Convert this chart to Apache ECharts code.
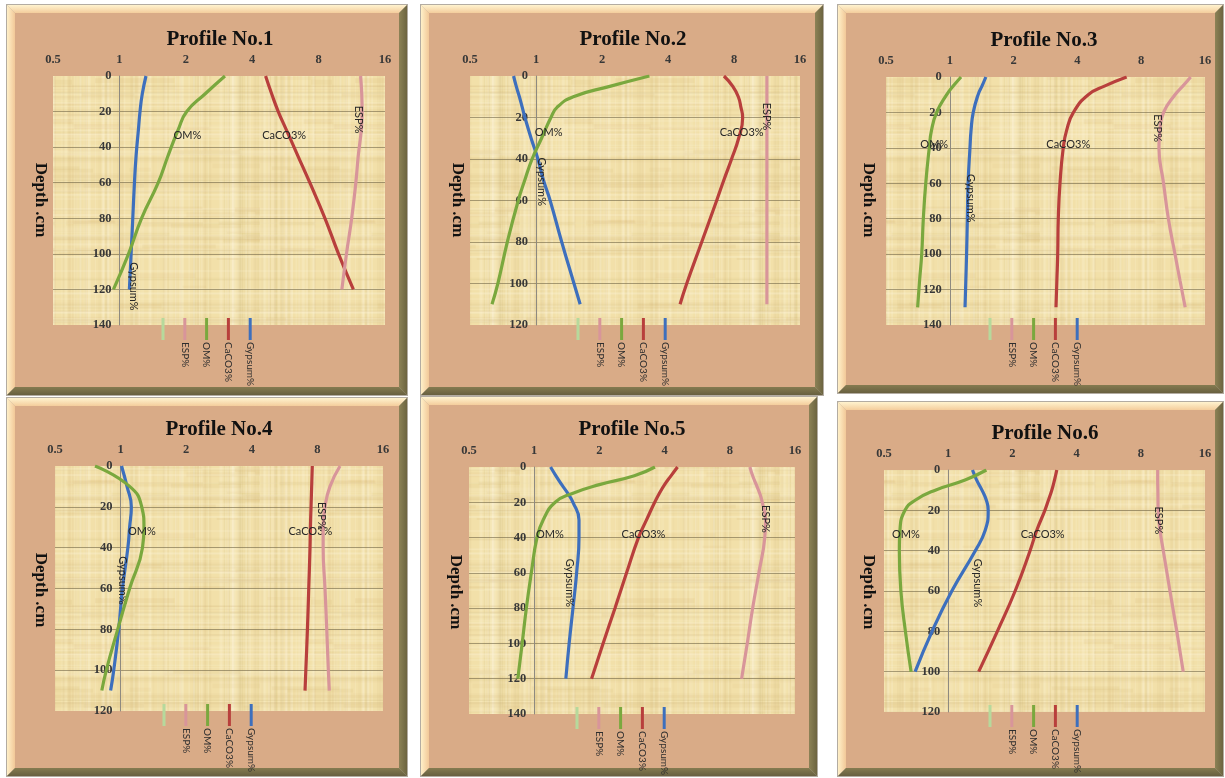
<!DOCTYPE html>
<html>
<head>
<meta charset="utf-8">
<script src="https://cdn.jsdelivr.net/npm/echarts@6.0.0/dist/echarts.min.js"></script>
<style>
  html, body { margin: 0; padding: 0; background: #ffffff; }
  #chart { width: 1225px; height: 778px; }
</style>
</head>
<body>
<div id="chart"></div>
<script>
// ---- Soil profile data: depth (cm) and measured percentages ----
const profileTitles = ['Profile No.1', 'Profile No.2', 'Profile No.3', 'Profile No.4', 'Profile No.5', 'Profile No.6'];
const xTicks = [0.5, 1, 2, 4, 8, 16];
const depthMax = [140, 120, 140, 120, 140, 120];
const seriesNames = ['Gypsum%', 'CaCO3%', 'OM%', 'ESP%'];
const legendNames = ['', 'ESP%', 'OM%', 'CaCO3%', 'Gypsum%'];
const depthTitle = 'Depth .cm';

const depth1 = [0, 10, 20, 30, 45, 60, 80, 100, 120];
const gypsum1 = [1.32, 1.27, 1.24, 1.22, 1.19, 1.17, 1.15, 1.13, 1.11];
const caco3_1 = [4.6, 4.9, 5.25, 5.7, 6.45, 7.3, 8.55, 9.85, 11.5];
const om1 = [3.01, 2.45, 2.02, 1.85, 1.66, 1.5, 1.26, 1.1, 0.94];
const esp1 = [12.4, 12.55, 12.6, 12.5, 12.1, 11.8, 11.3, 10.7, 10.2];

const depth2 = [0, 5, 10, 15, 20, 30, 40, 50, 60, 80, 100, 110];
const gypsum2 = [0.79, 0.813, 0.84, 0.865, 0.89, 0.95, 1.02, 1.08, 1.16, 1.31, 1.49, 1.59];
const caco3_2 = [7.2, 7.9, 8.37, 8.6, 8.76, 8.4, 7.8, 7.2, 6.67, 5.7, 4.87, 4.54];
const om2 = [3.29, 2.17, 1.48, 1.25, 1.17, 1.06, 0.96, 0.89, 0.83, 0.74, 0.67, 0.63];
const esp2 = [11.3, 11.3, 11.3, 11.3, 11.3, 11.3, 11.3, 11.3, 11.3, 11.3, 11.3, 11.3];

const depth3 = [0, 5, 10, 20, 30, 40, 60, 80, 100, 115, 130];
const gypsum3 = [1.48, 1.42, 1.36, 1.29, 1.26, 1.245, 1.22, 1.21, 1.2, 1.19, 1.18];
const caco3_3 = [6.83, 5.4, 4.5, 3.83, 3.56, 3.43, 3.31, 3.25, 3.23, 3.2, 3.17];
const om3 = [1.13, 1.04, 0.967, 0.867, 0.82, 0.8, 0.77, 0.75, 0.737, 0.72, 0.705];
const esp3 = [13.7, 12.6, 11.55, 10.2, 9.8, 9.7, 10.2, 10.75, 11.55, 12.2, 12.9];

const depth4 = [0, 10, 20, 30, 40, 60, 80, 100, 110];
const gypsum4 = [1.01, 1.07, 1.12, 1.1, 1.08, 1.02, 0.98, 0.93, 0.9];
const caco3_4 = [7.58, 7.53, 7.48, 7.43, 7.4, 7.3, 7.2, 7.08, 7.02];
const om4 = [0.763, 1.1, 1.25, 1.28, 1.26, 1.1, 0.97, 0.86, 0.82];
const esp4 = [10.16, 9.14, 8.67, 8.5, 8.5, 8.67, 8.83, 8.98, 9.07];

const depth5 = [0, 5, 10, 15, 20, 30, 40, 60, 80, 100, 120];
const gypsum5 = [1.19, 1.26, 1.34, 1.43, 1.51, 1.61, 1.61, 1.57, 1.51, 1.45, 1.4];
const caco3_5 = [4.59, 4.28, 4.0, 3.78, 3.6, 3.3, 3.03, 2.67, 2.36, 2.08, 1.84];
const om5 = [3.61, 2.9, 2.0, 1.5, 1.25, 1.1, 1.03, 0.97, 0.92, 0.88, 0.84];
const esp5 = [9.9, 10.2, 10.6, 11.0, 11.3, 11.7, 11.6, 10.9, 10.2, 9.63, 9.07];

const depth6 = [0, 5, 10, 15, 20, 30, 40, 60, 80, 100];
const gypsum6 = [1.3, 1.36, 1.44, 1.51, 1.54, 1.49, 1.34, 1.04, 0.84, 0.7];
const caco3_6 = [3.23, 3.15, 3.06, 2.95, 2.84, 2.6, 2.42, 2.06, 1.7, 1.39];
const om6 = [1.51, 1.2, 0.87, 0.7, 0.627, 0.594, 0.59, 0.6, 0.63, 0.67];
const esp6 = [9.6, 9.6, 9.62, 9.63, 9.65, 9.85, 10.2, 10.96, 11.8, 12.65];

const profileDepths = [depth1, depth2, depth3, depth4, depth5, depth6];
const profileSeries = [
  [gypsum1, caco3_1, om1, esp1],
  [gypsum2, caco3_2, om2, esp2],
  [gypsum3, caco3_3, om3, esp3],
  [gypsum4, caco3_4, om4, esp4],
  [gypsum5, caco3_5, om5, esp5],
  [gypsum6, caco3_6, om6, esp6]
];

// ---- Styling and layout ----
const seriesColors = ['#3d6fbd', '#b83f3c', '#7aa83e', '#d8959a'];
const legendColors = ['#b6d99c', '#d8959a', '#7aa83e', '#b83f3c', '#3d6fbd'];
const rotatedLabel = [true, false, false, true];

// panel frame boxes [x0, y0, x1, y1]
const frames = [[7, 5, 407, 395], [421, 5, 823, 395], [838, 5, 1223, 393],
                [7, 398, 407, 776], [421, 397, 817, 776], [838, 402, 1223, 776]];
// plotting boxes [left, top, right, bottom]
const plots = [[53, 76, 385, 325], [470, 76, 800, 325], [886, 77, 1205, 325],
               [55, 466, 383, 711], [469, 467, 795, 714], [884, 470, 1205, 712]];
const titlePos = [[220, 40], [633, 40], [1044, 41], [219, 430], [632, 430], [1045, 434]];
const depthTitlePos = [[40, 200], [457, 200], [868, 200], [40, 590], [455, 592], [868, 592]];
const legendStart = [163, 578, 990, 164, 577, 990];
const legendStep = 21.8;

// which point carries the series label and its screen offset [dx, dy]
// order per profile: Gypsum, CaCO3, OM, ESP
const labelAt = [
  [[8, 4, -3], [3, -2, 6], [3, 9, 6], [2, -4, 8]],
  [[7, -2, 2], [5, 3, -6], [5, 7, -6], [4, 0, -1]],
  [[6, 2, 15], [5, 5, -3], [5, 5, -3], [4, -2, -2]],
  [[5, 0, -8], [3, 0, 4], [3, -2, 4], [2, -3, 9]],
  [[7, -7, 10], [6, 5, -3], [6, 13, -3], [5, 0, -1]],
  [[7, 26, -8], [5, 6, 4], [5, 6, 4], [4, 0, 10]]
];

// papyrus-like fill for the plotting areas
function papyrusTexture() {
  const c = document.createElement('canvas');
  c.width = 260; c.height = 260;
  const g = c.getContext('2d');
  g.fillStyle = '#f2e0a9';
  g.fillRect(0, 0, 260, 260);
  let s = 12345;
  const next = () => { s = (s * 16807) % 2147483647; return s / 2147483647; };
  for (let i = 0; i < 150; i++) {
    const x = next() * 260;
    const light = next() < 0.55;
    g.fillStyle = light ? 'rgba(255,249,226,' + (0.10 + next() * 0.16) + ')'
                        : 'rgba(200,172,112,' + (0.04 + next() * 0.07) + ')';
    g.fillRect(x, 0, 1 + next() * 2, 260);
  }
  for (let i = 0; i < 100; i++) {
    const y = next() * 260;
    const light = next() < 0.5;
    g.fillStyle = light ? 'rgba(255,247,220,' + (0.10 + next() * 0.14) + ')'
                        : 'rgba(190,158,96,' + (0.05 + next() * 0.09) + ')';
    g.fillRect(0, y, 260, 1 + next() * 1.5);
  }
  for (let i = 0; i < 50; i++) {
    const y = next() * 260, x = next() * 260;
    g.fillStyle = 'rgba(210,176,106,' + (0.06 + next() * 0.08) + ')';
    g.fillRect(x, y, 20 + next() * 60, 2 + next() * 3);
  }
  return c;
}
const texture = papyrusTexture();

const grids = [], xAxes = [], yAxes = [], series = [], graphics = [];

plots.forEach((pb, p) => {
  const [l, t, r, b] = pb;
  const w = r - l, h = b - t;
  grids.push({ left: l, top: t, width: w, height: h, show: true, borderWidth: 0,
               backgroundColor: { image: texture, repeat: 'repeat' } });
  xAxes.push({
    type: 'log', logBase: 2, min: xTicks[0], max: xTicks[xTicks.length - 1],
    gridIndex: p, position: 'top',
    axisLine: { show: false }, axisTick: { show: false }, splitLine: { show: false },
    axisLabel: { margin: 10, color: '#383838', fontFamily: '"Liberation Serif", serif',
                 fontWeight: 'bold', fontSize: 12.5, formatter: v => String(v) }
  });
  yAxes.push({
    type: 'value', inverse: true, min: 0, max: depthMax[p], interval: 20,
    gridIndex: p, position: 'left', offset: -w / 5,
    axisLine: { show: true, onZero: false, lineStyle: { color: '#8e8a80', width: 1 } },
    axisTick: { show: false },
    axisLabel: { margin: 8, color: '#383838', fontFamily: '"Liberation Serif", serif',
                 fontWeight: 'bold', fontSize: 12.5 },
    splitLine: { show: true, showMinLine: false, showMaxLine: false,
                 lineStyle: { color: 'rgba(118,106,74,0.62)', width: 1 } }
  });

  const depths = profileDepths[p];
  profileSeries[p].forEach((vals, k) => {
    const [li, dx, dy] = labelAt[p][k];
    const rot = rotatedLabel[k];
    // rotated labels turn their offset with them
    const off = rot ? [dy, -dx] : [dx, dy];
    const data = depths.map((d, i) => {
      if (i !== li) return [vals[i], d];
      return {
        value: [vals[i], d], symbol: 'circle', symbolSize: 1,
        label: { show: true, formatter: '{a}', position: 'inside', rotate: rot ? -90 : 0,
                 offset: off, color: '#262626', fontFamily: 'Lato, "Open Sans", sans-serif',
                 fontSize: 11 }
      };
    });
    series.push({
      type: 'line', name: seriesNames[k], xAxisIndex: p, yAxisIndex: p,
      data, smooth: 0.5, symbol: 'none', showSymbol: true,
      lineStyle: { width: 3.2, color: seriesColors[k] },
      itemStyle: { color: seriesColors[k] },
      emphasis: { disabled: true }, z: 3 + k
    });
  });

  // bevelled frame
  const [x0, y0, x1, y1] = frames[p];
  const bv = 8;
  graphics.push(
    { type: 'rect', z: -20, shape: { x: x0 - 1, y: y0 - 1, width: x1 - x0 + 2, height: y1 - y0 + 2 },
      style: { fill: '#b3aca2' } },
    { type: 'polygon', z: -19, shape: { points: [[x0, y0], [x1, y0], [x1 - bv, y0 + bv], [x0 + bv, y0 + bv]] },
      style: { fill: { type: 'linear', x: 0, y: 0, x2: 0, y2: 1,
               colorStops: [{ offset: 0, color: '#fff3cf' }, { offset: 1, color: '#f4cd9c' }] } } },
    { type: 'polygon', z: -19, shape: { points: [[x0, y0], [x0 + bv, y0 + bv], [x0 + bv, y1 - bv], [x0, y1]] },
      style: { fill: { type: 'linear', x: 0, y: 0, x2: 1, y2: 0,
               colorStops: [{ offset: 0, color: '#fff0c8' }, { offset: 1, color: '#f2c898' }] } } },
    { type: 'polygon', z: -19, shape: { points: [[x1, y0], [x1, y1], [x1 - bv, y1 - bv], [x1 - bv, y0 + bv]] },
      style: { fill: { type: 'linear', x: 0, y: 0, x2: 1, y2: 0,
               colorStops: [{ offset: 0, color: '#8c8256' }, { offset: 1, color: '#6c6440' }] } } },
    { type: 'polygon', z: -19, shape: { points: [[x0, y1], [x1, y1], [x1 - bv, y1 - bv], [x0 + bv, y1 - bv]] },
      style: { fill: { type: 'linear', x: 0, y: 0, x2: 0, y2: 1,
               colorStops: [{ offset: 0, color: '#857b50' }, { offset: 1, color: '#686040' }] } } },
    { type: 'rect', z: -18, shape: { x: x0 + bv, y: y0 + bv, width: x1 - x0 - 2 * bv, height: y1 - y0 - 2 * bv },
      style: { fill: '#d9ab87' } }
  );

  // titles
  graphics.push({ type: 'text', z: 20, x: titlePos[p][0], y: titlePos[p][1],
    style: { text: profileTitles[p], align: 'center', verticalAlign: 'middle',
             font: 'bold 21px "Liberation Serif", serif', fill: '#111111' } });
  graphics.push({ type: 'text', z: 20, x: depthTitlePos[p][0], y: depthTitlePos[p][1], rotation: -Math.PI / 2,
    style: { text: depthTitle, align: 'center', verticalAlign: 'middle',
             font: 'bold 17px "Liberation Serif", serif', fill: '#111111' } });

  // legend: short vertical keys with names running downward
  legendNames.forEach((nm, j) => {
    const lx = legendStart[p] + j * legendStep;
    const ly0 = b - 7, ly1 = b + 15;
    graphics.push({ type: 'line', z: 20, shape: { x1: lx, y1: ly0, x2: lx, y2: ly1 },
      style: { stroke: legendColors[j], lineWidth: 3 } });
    if (nm) {
      graphics.push({ type: 'text', z: 20, x: lx, y: ly1 + 2, rotation: -Math.PI / 2,
        style: { text: nm, align: 'left', verticalAlign: 'middle',
                 font: '10px Lato, "Open Sans", sans-serif', fill: '#2e2e2e' } });
    }
  });
});

const chart = echarts.init(document.getElementById('chart'), null, { renderer: 'canvas' });
chart.setOption({
  animation: false,
  backgroundColor: '#ffffff',
  grid: grids,
  xAxis: xAxes,
  yAxis: yAxes,
  series: series,
  graphic: { elements: graphics }
});
</script>
</body>
</html>
